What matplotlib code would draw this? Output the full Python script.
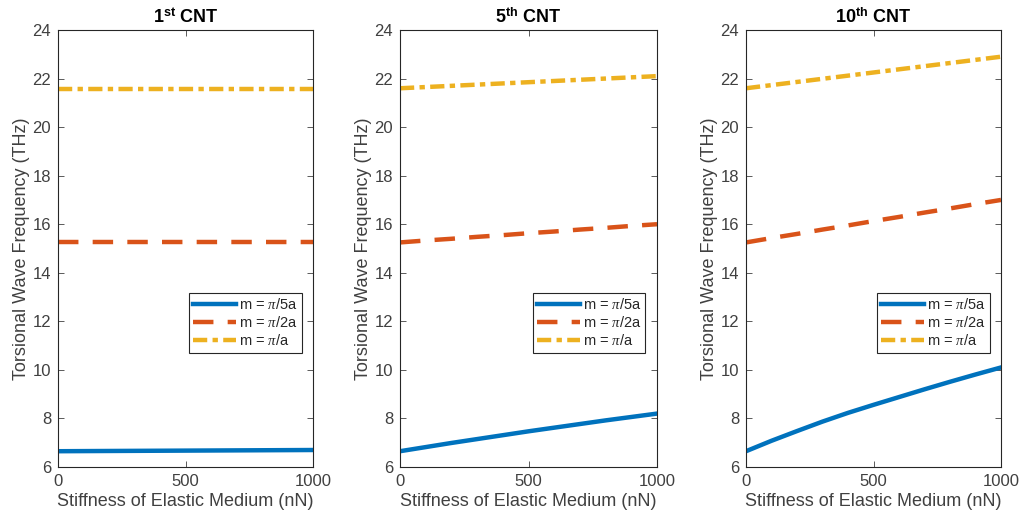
import numpy as np
import matplotlib.pyplot as plt

plt.rcParams['font.family'] = ['Liberation Sans', 'DejaVu Sans']
plt.rcParams['mathtext.fontset'] = 'custom'
plt.rcParams['mathtext.rm'] = 'Liberation Sans'
plt.rcParams['mathtext.it'] = 'Liberation Serif:italic'
plt.rcParams['mathtext.bf'] = 'Liberation Sans:bold'

stiffness = [0, 100, 200, 300, 400, 500, 600, 700, 800, 900, 1000]
titles = [r'1$^{\mathbf{st}}$ CNT', r'5$^{\mathbf{th}}$ CNT', r'10$^{\mathbf{th}}$ CNT']
labels = [r'm = $\pi$/5a', r'm = $\pi$/2a', r'm = $\pi$/a']

# frequencies (THz) for m = pi/5a, pi/2a, pi/a
cnt1 = [[6.65, 6.655, 6.66, 6.665, 6.67, 6.675, 6.68, 6.685, 6.69, 6.695, 6.70],
        [15.26] * 11,
        [21.58] * 11]
cnt5 = [[6.65, 6.82, 6.99, 7.15, 7.31, 7.47, 7.62, 7.77, 7.92, 8.06, 8.20],
        [15.25, 15.33, 15.40, 15.48, 15.55, 15.63, 15.70, 15.78, 15.85, 15.93, 16.00],
        [21.60, 21.65, 21.70, 21.75, 21.80, 21.85, 21.90, 21.95, 22.00, 22.05, 22.10]]
cnt10 = [[6.65, 7.08, 7.48, 7.87, 8.23, 8.56, 8.88, 9.20, 9.51, 9.81, 10.10],
         [15.25, 15.43, 15.60, 15.78, 15.95, 16.13, 16.30, 16.48, 16.65, 16.83, 17.00],
         [21.60, 21.73, 21.86, 21.99, 22.12, 22.25, 22.38, 22.51, 22.64, 22.77, 22.90]]

colors = ['#0072BD', '#D95319', '#EDB120']
styles = ['-', (0, (4.6, 3.2)), (0, (3.2, 1.2, 1.2, 1.2))]

fig = plt.figure(figsize=(10.23, 5.27), dpi=100)
lefts = [58, 400, 746]
widths = [255, 257, 255]
bottom, top = 467, 30
W, H = 1023, 527

for i, data in enumerate([cnt1, cnt5, cnt10]):
    ax = fig.add_axes([lefts[i] / W, 1 - bottom / H, widths[i] / W, (bottom - top) / H])
    for j in range(3):
        ax.plot(stiffness, data[j], color=colors[j], linestyle=styles[j],
                linewidth=3.2, label=labels[j], dash_capstyle='butt')
    ax.set_xlim(0, 1000)
    ax.set_ylim(6, 24)
    ax.set_xticks([0, 500, 1000])
    ax.set_yticks(np.arange(6, 25, 2))
    ax.tick_params(direction='in', top=True, right=True, labelsize=12,
                   colors='#404040', length=4, width=0.6, pad=5)
    for s in ax.spines.values():
        s.set_color('#262626')
        s.set_linewidth(0.8)
    ax.set_xlabel('Stiffness of Elastic Medium (nN)', fontsize=13, color='#404040', labelpad=3)
    ax.set_ylabel('Torsional Wave Frequency (THz)', fontsize=13, color='#404040', labelpad=2)
    ax.set_title(titles[i], fontsize=13, fontweight='bold', pad=5)
    leg = ax.legend(loc='center right', bbox_to_anchor=(0.955, 0.33), fontsize=10.5,
                    handlelength=2.9, handletextpad=0.2, borderpad=0.3,
                    labelspacing=0.2, fancybox=False, framealpha=1, borderaxespad=0)
    leg.get_frame().set_edgecolor('#262626')
    leg.get_frame().set_linewidth(0.8)
    for t in leg.get_texts():
        t.set_color('#262626')

fig.savefig('out.png', dpi=100)
